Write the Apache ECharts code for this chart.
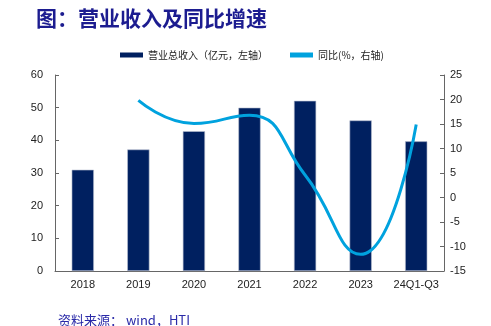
<!DOCTYPE html>
<html><head><meta charset="utf-8">
<script src="https://cdn.jsdelivr.net/npm/echarts@6/dist/echarts.min.js"></script>
<style>html,body{margin:0;padding:0;background:#fff}#c{width:491px;height:326px}</style>
</head><body><div id="c"></div>
<script>
const categories = ['2018','2019','2020','2021','2022','2023','24Q1-Q3'];
const revenue = [31.0, 37.2, 42.8, 50.0, 52.1, 46.1, 39.7];
const growth = [null, 19.8, 15.1, 16.8, 4.6, -11.6, 14.9];
const leftTicks = {min:0, max:60, interval:10};
const rightTicks = {min:-15, max:25, interval:5};
const titleText = '图：营业收入及同比增速';
const sourceText = '资料来源： wind，HTI';
const revenueName = '营业总收入（亿元，左轴）';
const growthName = '同比(%，右轴)';

const chart = echarts.init(document.getElementById('c'), null, {renderer:'canvas'});
const axisLabel = {color:'#222', fontSize:11, fontFamily:'Liberation Sans, Arial, sans-serif'};
chart.setOption({
  animation:false,
  backgroundColor:'#fff',
  title:[{
    text:titleText, left:31, top:3,
    textStyle:{color:'#1c1c90', fontSize:21, fontWeight:'bold', fontFamily:'Noto Sans CJK SC'}
  },{
    text:sourceText, left:53, top:309,
    textStyle:{color:'#2a2aa8', fontSize:13, fontWeight:'normal', fontFamily:'Noto Sans CJK SC'}
  }],
  legend:{
    left:115, top:45, itemWidth:23, itemHeight:5, itemGap:22,
    itemStyle:{borderWidth:0},
    textStyle:{color:'#222', fontSize:10, fontFamily:'Noto Sans CJK SC'},
    data:[{name:revenueName, icon:'rect'},{name:growthName, icon:'rect'}]
  },
  grid:{left:55, right:47, top:75, bottom:55},
  xAxis:{
    type:'category', data:categories,
    axisLine:{lineStyle:{color:'#666', width:1}},
    axisTick:{inside:true, length:4, lineStyle:{color:'#666'}},
    axisLabel:Object.assign({margin:8, interval:0}, axisLabel)
  },
  yAxis:[{
    type:'value', min:leftTicks.min, max:leftTicks.max, interval:leftTicks.interval,
    axisLine:{show:true, lineStyle:{color:'#666'}},
    axisTick:{show:true, inside:true, length:4, lineStyle:{color:'#666'}},
    splitLine:{show:false},
    axisLabel:Object.assign({margin:12}, axisLabel)
  },{
    type:'value', min:rightTicks.min, max:rightTicks.max, interval:rightTicks.interval,
    position:'right',
    axisLine:{show:true, lineStyle:{color:'#666'}},
    axisTick:{show:true, inside:true, length:4, lineStyle:{color:'#666'}},
    splitLine:{show:false},
    axisLabel:Object.assign({margin:6}, axisLabel)
  }],
  series:[{
    name:revenueName, type:'bar', data:revenue, barWidth:'40%',
    itemStyle:{color:'#002060', borderColor:'#b8bfd0', borderWidth:0.6}
  },{
    name:growthName, type:'line', yAxisIndex:1, data:growth, smooth:0.5,
    showSymbol:false, symbol:'none', connectNulls:false,
    lineStyle:{color:'#00a2de', width:3},
    itemStyle:{color:'#00a2de'}
  }]
});
</script></body></html>
